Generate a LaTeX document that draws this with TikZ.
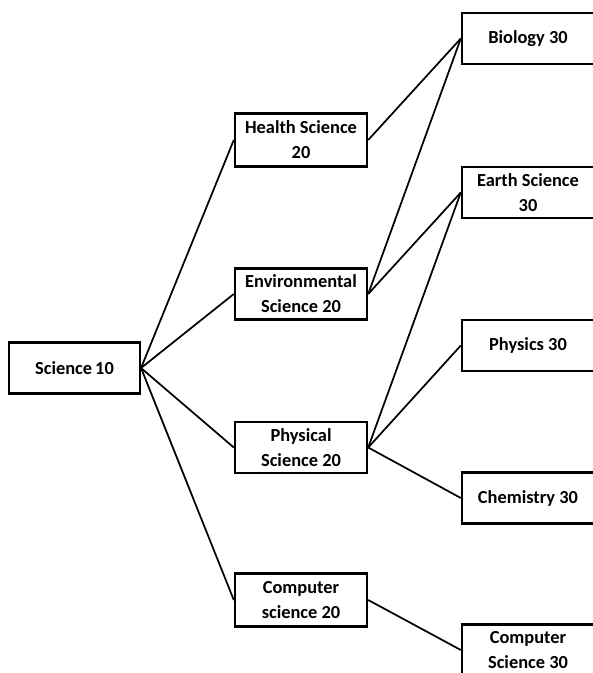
\documentclass[tikz,border=0pt]{standalone}
\usepackage{fontspec}
\setmainfont{Carlito}
\usepackage{tikz}

\begin{document}
\begin{tikzpicture}[x=0.75pt,y=-0.75pt]
    \newcommand{\midcol}{301}
    \newcommand{\rightcol}{528}
    \tikzstyle{edge}  = [line width=1.3pt,draw=black]
    \tikzstyle{course}=[
      rectangle,
      draw=black,
      anchor=center,
      line width=1.8pt,
      minimum width=99pt,
      minimum height=38pt,
      align=center,
      inner sep=1pt,
      font=\fontsize{13.8}{18.8}\selectfont\bfseries,
    ]
    \useasboundingbox (0,0) rectangle (592,673);

    \node[course,minimum width=98pt] (nSci10) at (74.5,368) {Science\,10};

    \node[course,minimum height=40pt] (nHealth) at (\midcol,140) {Health Science\\20};
    \node[course] (nEnv) at (\midcol,294) {Environmental\\Science 20};
    \node[course] (nPhys) at (\midcol,447.5) {Physical\\Science 20};
    \node[course,minimum height=40pt] (nComp20) at (\midcol,600) {Computer\\science 20};

    \node[course] (nBio) at (\rightcol,38.5) {Biology 30};
    \node[course] (nEarth) at (\rightcol,192.5) {Earth Science\\30};
    \node[course] (nPhysics) at (\rightcol,345.5) {Physics 30};
    \node[course] (nChem) at (\rightcol,498) {Chemistry 30};
    \node[course] (nComp30) at (\rightcol,650) {Computer\\Science 30};

    \draw[edge] (nSci10.east)--(nHealth.west);
    \draw[edge] (nSci10.east)--(nEnv.west);
    \draw[edge] (nSci10.east)--(nPhys.west);
    \draw[edge] (nSci10.east)--(nComp20.west);

    \draw[edge] (nHealth.east)--(nBio.west);
    \draw[edge] (nEnv.east)--(nBio.west);
    \draw[edge] (nEnv.east)--(nEarth.west);
    \draw[edge] (nPhys.east)--(nEarth.west);
    \draw[edge] (nPhys.east)--(nPhysics.west);
    \draw[edge] (nPhys.east)--(nChem.west);
    \draw[edge] (nComp20.east)--(nComp30.west);
  \end{tikzpicture}
\end{document}
